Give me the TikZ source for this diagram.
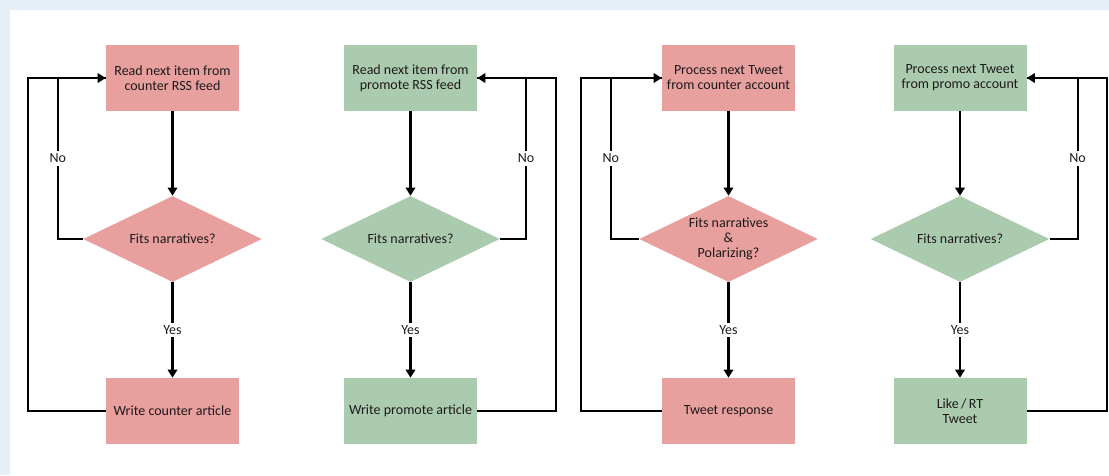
\documentclass[tikz,border=0pt]{standalone}
\usepackage{fontspec}
\setmainfont{Carlito}
\usetikzlibrary{shapes.geometric,arrows.meta}

\definecolor{counterred}{HTML}{E8A09F}
\definecolor{promogreen}{HTML}{ABCBAF}
\definecolor{pagebg}{HTML}{E6EEF8}
\definecolor{inktext}{HTML}{1E1A1B}

\tikzset{
  stepbox/.style={rectangle,minimum width=99.75pt,minimum height=49.5pt,inner sep=2pt,align=center,text=inktext},
  choice/.style={diamond,minimum width=134pt,minimum height=64.5pt,inner sep=0pt,aspect=2,align=center,text=inktext},
  wire/.style={line width=1.6pt},
  flow/.style={wire,-{Triangle[length=6pt,width=7pt]}},
  tag/.style={fill=white,inner sep=2pt,text=inktext},
}

\begin{document}
\begin{tikzpicture}[x=0.75pt,y=-0.75pt,font=\fontsize{10.5}{11.25}\selectfont]
    % page
    \fill[pagebg] (0,0) rectangle (1109,475);
    \fill[white] (10,10) rectangle (1109,475);

    % counter RSS
    \node[stepbox,fill=counterred] (read1) at (172.5,78) {Read next item from\\counter RSS feed};
    \node[choice,fill=counterred] (fits1) at (172.5,239) {Fits narratives?};
    \node[stepbox,fill=counterred] (write1) at (172.5,411) {Write counter article};

    % promote RSS
    \node[stepbox,fill=promogreen] (read2) at (410.5,78) {Read next item from\\promote RSS feed};
    \node[choice,fill=promogreen] (fits2) at (410.5,239) {Fits narratives?};
    \node[stepbox,fill=promogreen] (write2) at (410.5,411) {Write promote article};

    % counter account
    \node[stepbox,fill=counterred] (read3) at (728.5,78) {Process next Tweet\\from counter account};
    \node[choice,fill=counterred] (fits3) at (728.5,239) {Fits narratives\\\&\\Polarizing?};
    \node[stepbox,fill=counterred] (write3) at (728.5,411) {Tweet response};

    % promo account
    \node[stepbox,fill=promogreen] (read4) at (960,78) {Process next Tweet\\from promo account};
    \node[choice,fill=promogreen] (fits4) at (960,239) {Fits narratives?};
    \node[stepbox,fill=promogreen] (write4) at (960,411) {Like\,/\,RT\\Tweet};

    % back to the start
    \draw[wire] (write1.west) -- ++(-78,0) |- (read1.west);
    \draw[wire] (write2.east) -- ++(79,0) |- (read2.east);
    \draw[wire] (write3.west) -- ++(-81,0) |- (read3.west);
    \draw[wire] (write4.east) -- ++(80,0) |- (read4.east);

    \draw[flow] (fits1.west) -- ++(-25,0) |- node[tag,pos=0.25] {No} (read1.west);
    \draw[flow] (fits2.east) -- ++(26,0) |- node[tag,pos=0.25] {No} (read2.east);
    \draw[flow] (fits3.west) -- ++(-28,0) |- node[tag,pos=0.25] {No} (read3.west);
    \draw[flow] (fits4.east) -- ++(28,0) |- node[tag,pos=0.25] {No} (read4.east);

    \foreach \i in {1,...,4}{
        \draw[flow] (read\i) -- (fits\i);
        \draw[flow] (fits\i) -- node[tag] {Yes} (write\i);
    }
\end{tikzpicture}
\end{document}
